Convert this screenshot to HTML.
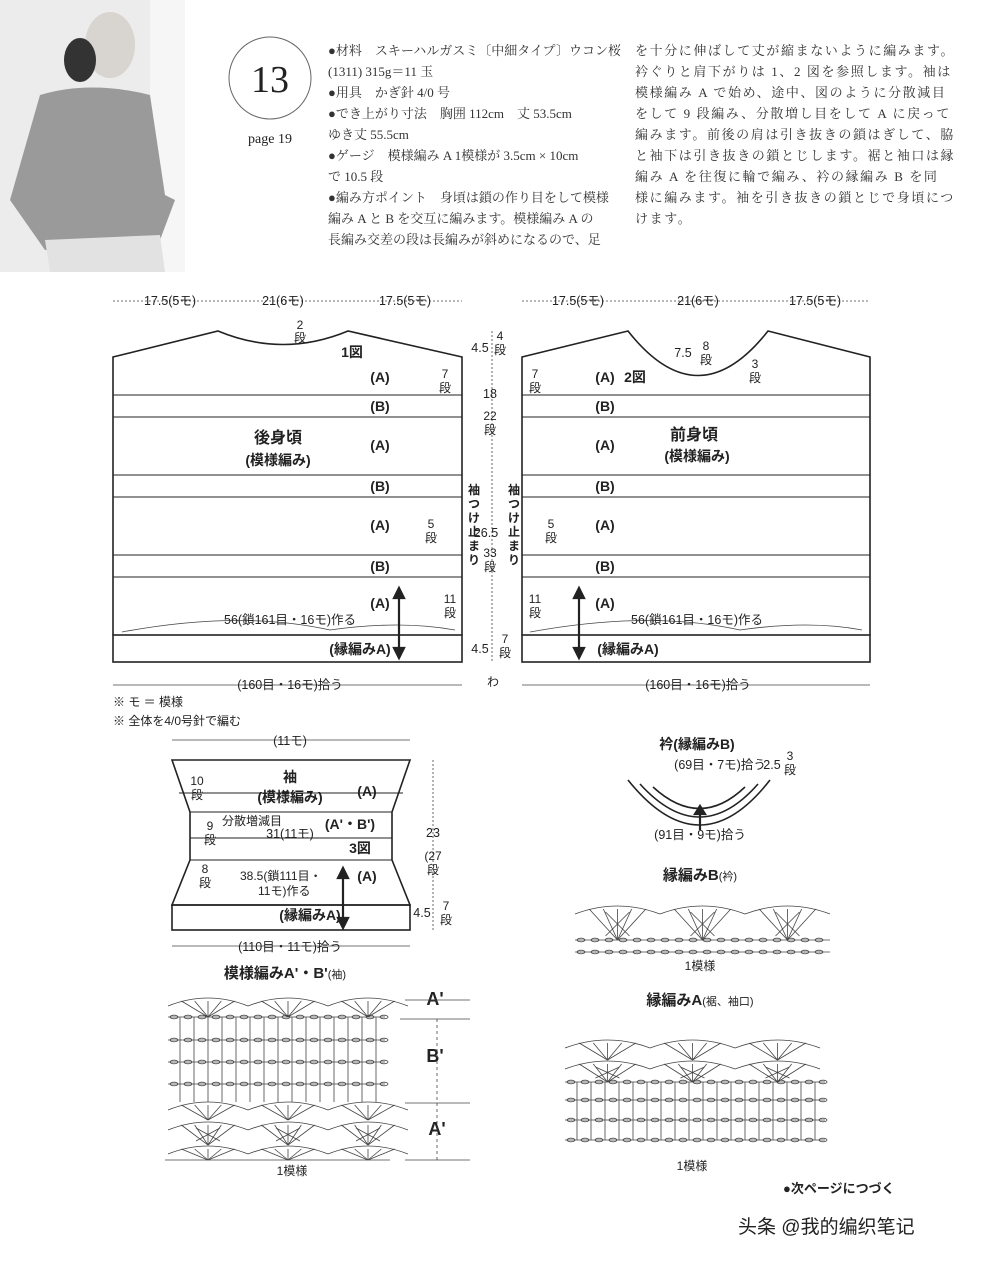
<!DOCTYPE html>
<html><head><meta charset="utf-8"><style>
html,body{margin:0;padding:0;background:#fff;}
body{width:993px;height:1261px;position:relative;overflow:hidden;font-family:"Liberation Sans","Noto Sans CJK JP",sans-serif;color:#222;}
.t{position:absolute;font-family:"Liberation Serif","Noto Serif CJK SC",serif;font-size:13px;line-height:21px;color:#333;white-space:nowrap;}
svg{position:absolute;left:0;top:0;}
svg text{font-family:"Liberation Sans","Noto Sans CJK JP",sans-serif;fill:#222;}
</style></head><body>
<div class="t" style="left:328px;top:40px">●材料　スキーハルガスミ〔中細タイプ〕ウコン桜<br>(1311) 315g＝11 玉<br>●用具　かぎ針 4/0 号<br>●でき上がり寸法　胸囲 112cm　丈 53.5cm<br>ゆき丈 55.5cm<br>●ゲージ　模様編み A 1模様が 3.5cm × 10cm<br>で 10.5 段<br>●編み方ポイント　身頃は鎖の作り目をして模様<br>編み A と B を交互に編みます。模様編み A の<br>長編み交差の段は長編みが斜めになるので、足</div>
<div class="t" style="left:635px;top:40px;letter-spacing:1.6px">を十分に伸ばして丈が縮まないように編みます。<br>衿ぐりと肩下がりは 1、2 図を参照します。袖は<br>模様編み A で始め、途中、図のように分散減目<br>をして 9 段編み、分散増し目をして A に戻って<br>編みます。前後の肩は引き抜きの鎖はぎして、脇<br>と袖下は引き抜きの鎖とじします。裾と袖口は縁<br>編み A を往復に輪で編み、衿の縁編み B を同<br>様に編みます。袖を引き抜きの鎖とじで身頃につ<br>けます。</div>
<svg width="993" height="1261" id="s">
<rect x="0" y="0" width="185" height="272" fill="#ececec"/>
<rect x="150" y="0" width="35" height="272" fill="#f6f6f6"/>
<ellipse cx="110" cy="45" rx="25" ry="33" fill="#d8d4d0"/>
<ellipse cx="80" cy="60" rx="16" ry="22" fill="#333"/>
<path d="M40 95 Q90 80 150 95 L165 195 L175 200 L160 240 L45 250 L10 200 Z" fill="#9a9a9a"/>
<path d="M45 240 L160 235 L165 272 L50 272Z" fill="#e2e2e2"/>
<circle cx="270" cy="78" r="41" fill="none" stroke="#666" stroke-width="1"/>
<text x="270" y="92" font-size="38" text-anchor="middle" style="font-family:'Liberation Serif',serif">13</text>
<text x="270" y="143" font-size="14" text-anchor="middle" style="font-family:'Liberation Serif',serif">page 19</text>
<g stroke="#222" fill="none" stroke-width="1.6">
<path d="M113 635 L113 357 L218 331 Q283 358 348 331 L462 357 L462 635"/>
<rect x="113" y="635" width="349" height="27"/>
<path d="M522 635 L522 357 L628 331 Q698 420 768 331 L870 357 L870 635"/>
<rect x="522" y="635" width="348" height="27"/>
<path d="M172 760 L410 760 L392 812 L392 860 L410 905 L172 905 L190 860 L190 812 Z"/>
<rect x="172" y="905" width="238" height="25"/>
<path d="M628 780 Q700 870 770 780" />
<path d="M640 784 Q700 850 758 784"/>
<path d="M653 787 Q700 830 745 787"/>
</g>
<g stroke="#222" stroke-width="1">
<line x1="113" y1="395" x2="462" y2="395"/><line x1="113" y1="417" x2="462" y2="417"/>
<line x1="113" y1="475" x2="462" y2="475"/><line x1="113" y1="497" x2="462" y2="497"/>
<line x1="113" y1="555" x2="462" y2="555"/><line x1="113" y1="577" x2="462" y2="577"/>
<line x1="522" y1="395" x2="870" y2="395"/><line x1="522" y1="417" x2="870" y2="417"/>
<line x1="522" y1="475" x2="870" y2="475"/><line x1="522" y1="497" x2="870" y2="497"/>
<line x1="522" y1="555" x2="870" y2="555"/><line x1="522" y1="577" x2="870" y2="577"/>
<line x1="179" y1="793" x2="403" y2="793"/><line x1="190" y1="812" x2="392" y2="812"/>
<line x1="190" y1="838" x2="392" y2="838"/><line x1="190" y1="860" x2="392" y2="860"/>
</g>
<g stroke="#444" stroke-width="0.8" fill="none">
<line x1="113" y1="301" x2="462" y2="301" stroke-dasharray="2 2"/>
<line x1="522" y1="301" x2="870" y2="301" stroke-dasharray="2 2"/>
<line x1="113" y1="685" x2="462" y2="685"/><line x1="522" y1="685" x2="870" y2="685"/>
<line x1="172" y1="740" x2="410" y2="740"/><line x1="172" y1="946" x2="410" y2="946"/>
<line x1="433" y1="760" x2="433" y2="930" stroke-dasharray="2 2"/>
<line x1="492" y1="331" x2="492" y2="662" stroke-dasharray="2 2"/>
<path d="M122 632 Q240 610 330 630 Q400 620 455 630"/>
<path d="M530 632 Q650 610 740 630 Q810 620 862 630"/>
</g>
<g font-size="12.5" text-anchor="middle">
<text x="170" y="305">17.5(5モ)</text><text x="283" y="305">21(6モ)</text><text x="405" y="305">17.5(5モ)</text>
<text x="578" y="305">17.5(5モ)</text><text x="698" y="305">21(6モ)</text><text x="815" y="305">17.5(5モ)</text>
<text x="290" y="689">(160目・16モ)拾う</text><text x="698" y="689">(160目・16モ)拾う</text>
<text x="290" y="745">(11モ)</text><text x="290" y="951">(110目・11モ)拾う</text>
<text x="290" y="624">56(鎖161目・16モ)作る</text><text x="697" y="624">56(鎖161目・16モ)作る</text>
<text x="290" y="838">31(11モ)</text>
<text x="480" y="352">4.5</text><text x="490" y="398">18</text><text x="486" y="537">26.5</text><text x="480" y="653">4.5</text>
<text x="683" y="357">7.5</text><text x="433" y="837">23</text><text x="422" y="917">4.5</text>
<text x="720" y="769">(69目・7モ)拾う</text><text x="700" y="839">(91目・9モ)拾う</text><text x="772" y="769">2.5</text>
<text x="292" y="1175" font-size="12">1模様</text><text x="700" y="970" font-size="12">1模様</text><text x="692" y="1170" font-size="12">1模様</text>
</g>
<g font-size="14" font-weight="bold" text-anchor="middle">
<text x="380" y="382">(A)</text><text x="380" y="411">(B)</text><text x="380" y="450">(A)</text><text x="380" y="491">(B)</text><text x="380" y="530">(A)</text><text x="380" y="571">(B)</text><text x="380" y="608">(A)</text>
<text x="605" y="382">(A)</text><text x="605" y="411">(B)</text><text x="605" y="450">(A)</text><text x="605" y="491">(B)</text><text x="605" y="530">(A)</text><text x="605" y="571">(B)</text><text x="605" y="608">(A)</text>
<text x="352" y="357">1図</text><text x="635" y="382">2図</text>
<text x="278" y="443" font-size="16">後身頃</text><text x="278" y="465">(模様編み)</text>
<text x="694" y="440" font-size="16">前身頃</text><text x="697" y="461">(模様編み)</text>
<text x="360" y="654">(縁編みA)</text><text x="628" y="654">(縁編みA)</text>
<text x="290" y="782">袖</text><text x="290" y="802">(模様編み)</text><text x="367" y="796">(A)</text>
<text x="350" y="829">(A'・B')</text><text x="360" y="853">3図</text><text x="367" y="881">(A)</text>
<text x="310" y="920">(縁編みA)</text>
<text x="697" y="749">衿(縁編みB)</text>
<text x="700" y="880" font-size="15">縁編みB<tspan font-size="11" font-weight="normal">(衿)</tspan></text>
<text x="700" y="1005" font-size="15">縁編みA<tspan font-size="11" font-weight="normal">(裾、袖口)</tspan></text>
<text x="285" y="978" font-size="15">模様編みA'・B'<tspan font-size="11" font-weight="normal">(袖)</tspan></text>
<text x="435" y="1005" font-size="18">A'</text><text x="435" y="1062" font-size="18">B'</text><text x="437" y="1135" font-size="18">A'</text>
</g>
<g font-size="12" text-anchor="middle">
<text x="300" y="329">2</text><text x="300" y="342">段</text>
<text x="445" y="378">7</text><text x="445" y="392">段</text>
<text x="431" y="528">5</text><text x="431" y="542">段</text>
<text x="450" y="603">11</text><text x="450" y="617">段</text>
<text x="500" y="340">4</text><text x="500" y="354">段</text>
<text x="490" y="420">22</text><text x="490" y="434">段</text>
<text x="490" y="557">33</text><text x="490" y="571">段</text>
<text x="505" y="643">7</text><text x="505" y="657">段</text><text x="493" y="686">わ</text>
<text x="535" y="378">7</text><text x="535" y="392">段</text>
<text x="706" y="350">8</text><text x="706" y="364">段</text>
<text x="755" y="368">3</text><text x="755" y="382">段</text>
<text x="551" y="528">5</text><text x="551" y="542">段</text>
<text x="535" y="603">11</text><text x="535" y="617">段</text>
<text x="197" y="785">10</text><text x="197" y="799">段</text>
<text x="210" y="830">9</text><text x="210" y="844">段</text>
<text x="205" y="873">8</text><text x="205" y="887">段</text>
<text x="433" y="860">(27</text><text x="433" y="874">段</text>
<text x="446" y="910">7</text><text x="446" y="924">段</text>
<text x="790" y="760">3</text><text x="790" y="774">段</text>
</g>
<g font-size="12" font-weight="bold">
<text x="468" y="494">袖</text><text x="468" y="508">つ</text><text x="468" y="522">け</text><text x="468" y="536">止</text><text x="468" y="550">ま</text><text x="468" y="564">り</text>
<text x="508" y="494">袖</text><text x="508" y="508">つ</text><text x="508" y="522">け</text><text x="508" y="536">止</text><text x="508" y="550">ま</text><text x="508" y="564">り</text>
</g>
<g font-size="12"><text x="113" y="706">※ モ ＝ 模様</text><text x="113" y="725">※ 全体を4/0号針で編む</text>
<text x="222" y="825">分散増減目</text><text x="240" y="880">38.5(鎖111目・</text><text x="258" y="895">11モ)作る</text>
<text x="783" y="1193" font-size="13" font-weight="bold">●次ページにつづく</text></g>
<text x="738" y="1233" font-size="19" fill="#333">头条 @我的编织笔记</text>
<g stroke="#222" stroke-width="2.2" fill="#222">
<line x1="399" y1="595" x2="399" y2="652"/><path d="M394 598 L399 588 L404 598Z"/><path d="M394 648 L399 658 L404 648Z"/>
<line x1="579" y1="595" x2="579" y2="652"/><path d="M574 598 L579 588 L584 598Z"/><path d="M574 648 L579 658 L584 648Z"/>
<line x1="343" y1="875" x2="343" y2="922"/><path d="M338 878 L343 868 L348 878Z"/><path d="M338 918 L343 928 L348 918Z"/>
<line x1="700" y1="812" x2="700" y2="830"/><path d="M695 814 L700 806 L705 814Z"/>
</g>
<g id="charts" stroke="#444" stroke-width="0.8" fill="none"></g>
</svg>
<script>
var g=document.getElementById('charts'),h='';
function row(x1,x2,y){h+='<line x1="'+x1+'" y1="'+y+'" x2="'+x2+'" y2="'+y+'"/>';for(var x=x1+6;x<x2;x+=14)h+='<ellipse cx="'+x+'" cy="'+y+'" rx="4" ry="1.8"/>';}
function sts(x1,x2,y1,y2){for(var x=x1+12;x<x2;x+=14)h+='<line x1="'+x+'" y1="'+y1+'" x2="'+x+'" y2="'+y2+'"/>';}
function fans(x1,x2,y1,y2,w,cross){for(var x=x1;x<x2-10;x+=w){var c=x+w/2;h+='<path d="M'+x+' '+(y1+6)+' Q'+c+' '+(y1-10)+' '+(x+w)+' '+(y1+6)+'"/>';for(var k=-2;k<=2;k++)h+='<line x1="'+c+'" y1="'+y2+'" x2="'+(c+k*w/6)+'" y2="'+(y1+1)+'"/>';if(cross)h+='<line x1="'+(c-12)+'" y1="'+(y1+4)+'" x2="'+(c+12)+'" y2="'+(y2-4)+'"/><line x1="'+(c+12)+'" y1="'+(y1+4)+'" x2="'+(c-12)+'" y2="'+(y2-4)+'"/>';}}
fans(168,380,1000,1017,80,false);row(168,385,1017);sts(168,385,1017,1040);row(168,385,1040);sts(168,385,1040,1062);row(168,385,1062);sts(168,385,1062,1084);row(168,385,1084);sts(168,385,1084,1102);
fans(168,385,1104,1120,80,false);fans(168,385,1124,1145,80,true);h+='<line x1="165" y1="1160" x2="390" y2="1160"/>';fans(168,385,1148,1160,80,false);
fans(575,830,908,940,85,true);row(575,830,940);row(575,830,952);
fans(565,825,1042,1060,85,false);fans(565,825,1063,1082,85,true);row(565,825,1082);sts(565,825,1082,1100);row(565,825,1100);sts(565,825,1100,1120);row(565,825,1120);sts(565,825,1120,1140);row(565,825,1140);
h+='<line x1="405" y1="1000" x2="470" y2="1000"/><line x1="400" y1="1019" x2="470" y2="1019"/><line x1="405" y1="1103" x2="470" y2="1103"/><line x1="405" y1="1160" x2="470" y2="1160"/><line x1="437" y1="1019" x2="437" y2="1160" stroke-dasharray="3 3"/>';
g.innerHTML=h;
</script>
</body></html>
